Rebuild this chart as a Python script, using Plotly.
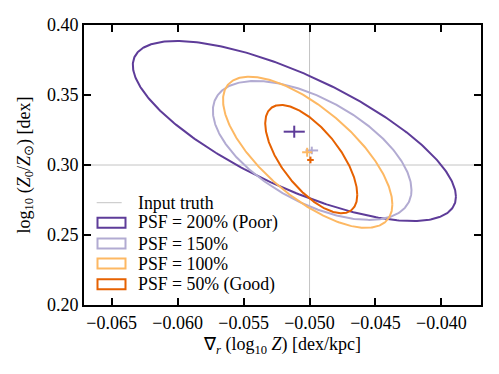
import numpy as np
import plotly.graph_objects as go

# ---- data ----
labels = ["PSF = 200% (Poor)", "PSF = 150%", "PSF = 100%", "PSF = 50% (Good)"]
colors = ["#5e3c99", "#b2abd2", "#fdb863", "#e66101"]
# ellipse centres
cx = [-0.05115, -0.04980, -0.05014, -0.04987]
cy = [0.3243, 0.3104, 0.3091, 0.3042]
# ellipse half extents and correlation
sx = [0.01225, 0.00753, 0.00642, 0.00349]
sy = [0.0643, 0.0496, 0.0540, 0.0387]
rho = [-0.73, -0.57, -0.69, -0.66]
# mean markers (centre + error)
mx = [-0.05116, -0.04983, -0.05018, -0.04993]
my = [0.3238, 0.3104, 0.3091, 0.3036]
mxerr = [0.0008, 0.00048, 0.00038, 0.00025]
myerr = [0.0043, 0.0027, 0.0032, 0.0024]
truth_x = -0.050
truth_y = 0.30
xticks = [-0.065, -0.060, -0.055, -0.050, -0.045, -0.040]
yticks = [0.20, 0.25, 0.30, 0.35, 0.40]

FONT = "Liberation Serif"
FS = 18
FS_LEG = 17.8
fig = go.Figure()

t = np.linspace(0, 2 * np.pi, 400)
for i in range(len(labels)):
    ex = cx[i] + sx[i] * np.cos(t)
    ey = cy[i] + sy[i] * (rho[i] * np.cos(t) + np.sqrt(1 - rho[i] ** 2) * np.sin(t))
    fig.add_trace(go.Scatter(x=ex, y=ey, mode="lines",
                             line=dict(color=colors[i], width=2),
                             showlegend=False, hoverinfo="skip"))
for i in range(len(labels)):
    fig.add_trace(go.Scatter(
        x=[mx[i]], y=[my[i]], mode="markers", marker=dict(size=0.1, color=colors[i]),
        error_x=dict(type="data", array=[mxerr[i]], color=colors[i], thickness=2, width=0),
        error_y=dict(type="data", array=[myerr[i]], color=colors[i], thickness=2, width=0),
        showlegend=False, hoverinfo="skip"))

# input truth lines
fig.add_shape(type="line", xref="x", yref="paper", x0=truth_x, x1=truth_x, y0=0, y1=1,
              line=dict(color="#c4c4c4", width=1), layer="below")
fig.add_shape(type="line", xref="paper", yref="y", x0=0, x1=1, y0=truth_y, y1=truth_y,
              line=dict(color="#c4c4c4", width=1), layer="below")

# manual legend (matplotlib-like patches)
L, T, W, H = 84, 25, 397, 280
def px(x):
    return (x - L) / W
def py(y):
    return 1 - (y - T) / H
rows = [202.7, 222.8, 243.5, 263.5, 284.2]
fig.add_shape(type="line", xref="paper", yref="paper", x0=px(96.7), x1=px(121.7),
              y0=py(rows[0]), y1=py(rows[0]), line=dict(color="#c4c4c4", width=1))
fig.add_annotation(xref="paper", yref="paper", x=px(136), y=py(rows[0]), text="Input truth",
                   showarrow=False, xanchor="left", yanchor="middle",
                   font=dict(family=FONT, size=FS_LEG, color="black"))
for i in range(len(labels)):
    r = rows[i + 1]
    fig.add_shape(type="rect", xref="paper", yref="paper", x0=px(97.5), x1=px(125.5),
                  y0=py(r + 5), y1=py(r - 5), line=dict(color=colors[i], width=2),
                  fillcolor="rgba(0,0,0,0)")
    fig.add_annotation(xref="paper", yref="paper", x=px(136), y=py(r), text=labels[i],
                       showarrow=False, xanchor="left", yanchor="middle",
                       font=dict(family=FONT, size=FS_LEG, color="black"))

axis_common = dict(ticks="inside", ticklen=7, tickwidth=1.5, tickcolor="black",
                   showline=True, linecolor="black", linewidth=2, mirror="allticks",
                   showgrid=False, zeroline=False,
                   tickfont=dict(family=FONT, size=FS, color="black"))
fig.update_xaxes(range=[-0.0671, -0.0370], tickvals=xticks, tickformat=".3f",
                 title=dict(text="∇<sub><i>r</i></sub> (log<sub>10</sub> <i>Z</i>) [dex/kpc]",
                            font=dict(family=FONT, size=FS, color="black"), standoff=6),
                 **axis_common)
fig.update_yaxes(range=[0.20, 0.40], tickvals=yticks, tickformat=".2f",
                 title=dict(text="log<sub>10</sub> (<i>Z</i><sub>0</sub>/<i>Z</i><sub>⊙</sub>) [dex]",
                            font=dict(family=FONT, size=FS, color="black"), standoff=12),
                 **axis_common)
fig.update_layout(width=499, height=374, margin=dict(l=84, r=18, t=25, b=69, autoexpand=False),
                  plot_bgcolor="white", paper_bgcolor="white", showlegend=False,
                  font=dict(family=FONT))
fig.write_html("out.html")
